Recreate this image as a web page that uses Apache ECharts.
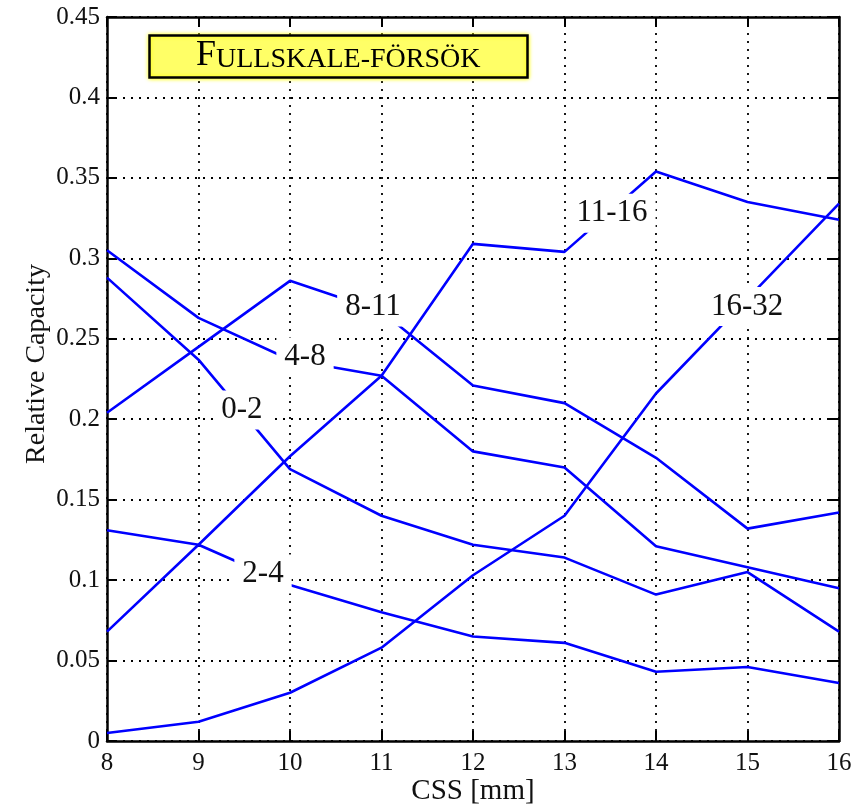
<!DOCTYPE html>
<html>
<head>
<meta charset="utf-8">
<script src="https://cdn.jsdelivr.net/npm/echarts@6/dist/echarts.min.js"></script>
<style>
  html, body { margin: 0; padding: 0; background: #fff; }
  #chart { width: 867px; height: 806px; }
</style>
</head>
<body>
<div id="chart"></div>
<script>
// Crusher setting (closed side setting) in mm
const css = [8, 9, 10, 11, 12, 13, 14, 15, 16];

// Relative capacity per size fraction
const frac_0_2   = [0.288, 0.237, 0.169, 0.140, 0.122, 0.114, 0.091, 0.105, 0.068];
const frac_2_4   = [0.131, 0.122, 0.097, 0.080, 0.065, 0.061, 0.043, 0.046, 0.036];
const frac_4_8   = [0.305, 0.263, 0.237, 0.227, 0.180, 0.170, 0.121, 0.108, 0.095];
const frac_8_11  = [0.204, 0.245, 0.286, 0.267, 0.221, 0.210, 0.176, 0.132, 0.142];
const frac_11_16 = [0.068, 0.122, 0.177, 0.227, 0.309, 0.304, 0.354, 0.335, 0.324];
const frac_16_32 = [0.005, 0.012, 0.030, 0.058, 0.103, 0.140, 0.216, 0.275, 0.334];

const fractionNames = ['0-2', '2-4', '4-8', '8-11', '11-16', '16-32'];
const fractionValues = [frac_0_2, frac_2_4, frac_4_8, frac_8_11, frac_11_16, frac_16_32];

// Inline curve labels: [css, capacity] where each fraction name sits
const labelCss = [9.475, 9.705, 10.164, 10.907, 13.519, 14.995];
const labelCap = [0.2057, 0.1038, 0.2387, 0.2697, 0.328, 0.270];

const yTicks = [0, 0.05, 0.1, 0.15, 0.2, 0.25, 0.3, 0.35, 0.4, 0.45];

const SERIF = '"Liberation Serif", "Times New Roman", "DejaVu Serif", serif';

const chart = echarts.init(document.getElementById('chart'), null, { renderer: 'canvas' });

const lineSeries = fractionValues.map((vals, i) => ({
  name: fractionNames[i],
  type: 'line',
  xAxisIndex: 0,
  yAxisIndex: 0,
  data: css.map((c, k) => [c, vals[k]]),
  symbol: 'none',
  smooth: false,
  lineStyle: { color: '#0000ff', width: 2.6 },
  z: 3,
  silent: true
}));

const labelSeries = {
  type: 'scatter',
  xAxisIndex: 0,
  yAxisIndex: 0,
  symbolSize: 0,
  z: 10,
  silent: true,
  itemStyle: { opacity: 1 },
  data: fractionNames.map((n, i) => ({ value: [labelCss[i], labelCap[i]], name: n })),
  label: {
    show: true,
    position: 'inside',
    formatter: p => p.name,
    fontFamily: SERIF,
    fontSize: 31,
    color: '#111111',
    backgroundColor: '#ffffff',
    padding: [4, 8, 4, 8]
  },
  labelLayout: { hideOverlap: false }
};

const option = {
  backgroundColor: '#ffffff',
  animation: false,
  title: {
    text: '{a|F}{b|ULLSKALE-FÖRSÖK}',
    left: 149,
    top: 35,
    padding: [3, 47, 4, 47],
    backgroundColor: '#ffff66',
    borderColor: '#000000',
    borderWidth: 2.5,
    shadowColor: '#ffff00',
    shadowBlur: 4,
    textStyle: {
      fontWeight: 'normal',
      rich: {
        a: { fontFamily: SERIF, fontSize: 36, fontWeight: 'normal', color: '#000', verticalAlign: 'bottom' },
        b: { fontFamily: SERIF, fontSize: 28, fontWeight: 'normal', color: '#000', verticalAlign: 'bottom' }
      }
    },
    z: 12
  },
  grid: { left: 107, right: 28, top: 17, bottom: 65, containLabel: false, outerBoundsMode: 'none' },
  xAxis: [
    {
      type: 'value',
      min: 8, max: 16, interval: 1,
      name: 'CSS [mm]',
      nameLocation: 'middle',
      nameGap: 36,
      nameMoveOverlap: false,
      nameTextStyle: { fontFamily: SERIF, fontSize: 29, color: '#111' },
      axisLine: { show: true, onZero: false, lineStyle: { color: '#000', width: 2.5 } },
      axisTick: { show: true, inside: true, length: 10, lineStyle: { color: '#000', width: 2 } },
      axisLabel: { fontFamily: SERIF, fontSize: 25, color: '#111', margin: 10 },
      splitLine: { show: true, lineStyle: { color: '#000', width: 1.8, type: [2, 6] } }
    },
    {
      type: 'value',
      position: 'top',
      min: 8, max: 16, interval: 1,
      axisLine: { show: true, onZero: false, lineStyle: { color: '#000', width: 2.5 } },
      axisTick: { show: true, inside: true, length: 10, lineStyle: { color: '#000', width: 2 } },
      axisLabel: { show: false },
      splitLine: { show: false }
    }
  ],
  yAxis: [
    {
      type: 'value',
      min: 0, max: 0.45, interval: 0.05,
      name: 'Relative Capacity',
      nameLocation: 'middle',
      nameGap: 56,
      nameMoveOverlap: false,
      nameTextStyle: { fontFamily: SERIF, fontSize: 28, color: '#111', padding: [0, 0, 0, 30] },
      axisLine: { show: true, onZero: false, lineStyle: { color: '#000', width: 2.5 } },
      axisTick: { show: true, inside: true, length: 10, lineStyle: { color: '#000', width: 2 } },
      axisLabel: {
        fontFamily: SERIF, fontSize: 25, color: '#111', margin: 7,
        formatter: v => {
          const t = yTicks.find(s => Math.abs(s - v) < 1e-9);
          return t === undefined ? '' : String(t);
        }
      },
      splitLine: { show: true, lineStyle: { color: '#000', width: 1.8, type: [2, 6] } }
    },
    {
      type: 'value',
      position: 'right',
      min: 0, max: 0.45, interval: 0.05,
      axisLine: { show: true, onZero: false, lineStyle: { color: '#000', width: 2.5 } },
      axisTick: { show: true, inside: true, length: 10, lineStyle: { color: '#000', width: 2 } },
      axisLabel: { show: false },
      splitLine: { show: false }
    }
  ],
  series: [...lineSeries, labelSeries]
};

chart.setOption(option);
</script>
</body>
</html>
